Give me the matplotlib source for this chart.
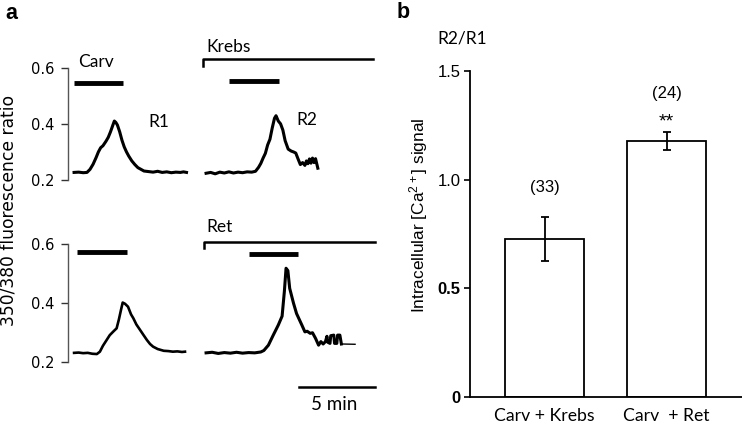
import numpy as np
import matplotlib.pyplot as plt

plt.rcParams['mathtext.default'] = 'regular'

# ---- panel a: fura-2 traces (time in min, 350/380 ratio) ----
r1_t = [0.4, 0.7, 1.0, 1.25, 1.45, 1.65, 1.85, 2.0, 2.15, 2.3, 2.5, 2.65, 2.8, 2.95, 3.05, 3.15, 3.25, 3.4, 3.55,
        3.7, 3.85, 4.0, 4.2, 4.4, 4.6, 4.8, 5.0, 5.3, 5.6, 5.9, 6.2, 6.5, 6.8, 7.1, 7.4, 7.6, 7.8]
r1_v = [0.227, 0.228, 0.226, 0.227, 0.238, 0.256, 0.280, 0.300, 0.315, 0.322, 0.338, 0.352, 0.372, 0.395, 0.410,
        0.405, 0.396, 0.372, 0.342, 0.318, 0.300, 0.285, 0.268, 0.255, 0.244, 0.238, 0.232, 0.230, 0.228, 0.231,
        0.227, 0.229, 0.226, 0.228, 0.227, 0.229, 0.227]

krebs_t = [0.4, 0.7, 1.0, 1.3, 1.6, 1.9, 2.2, 2.5, 2.8, 3.1, 3.4, 3.65, 3.85, 4.0, 4.15, 4.3, 4.45, 4.6, 4.75, 4.9,
           5.0, 5.15, 5.3, 5.45, 5.6, 5.8, 6.0, 6.15, 6.3, 6.45, 6.6, 6.75, 6.9, 7.0, 7.1, 7.2, 7.3, 7.4, 7.5, 7.6, 7.75]
krebs_v = [0.224, 0.227, 0.222, 0.228, 0.225, 0.229, 0.225, 0.228, 0.226, 0.229, 0.228, 0.231, 0.245, 0.259, 0.278,
           0.295, 0.325, 0.345, 0.385, 0.420, 0.429, 0.410, 0.400, 0.378, 0.340, 0.310, 0.303, 0.300, 0.296, 0.275,
           0.255, 0.262, 0.252, 0.268, 0.258, 0.275, 0.260, 0.278, 0.262, 0.276, 0.242]

r1b_t = [0.4, 0.7, 1.0, 1.3, 1.6, 1.9, 2.1, 2.3, 2.5, 2.75, 3.0, 3.2, 3.35, 3.5, 3.6, 3.75, 3.95, 4.15, 4.3, 4.5,
         4.75, 5.0, 5.2, 5.4, 5.6, 5.9, 6.3, 6.6, 6.9, 7.2, 7.5, 7.7]
r1b_v = [0.232, 0.233, 0.231, 0.232, 0.229, 0.228, 0.236, 0.256, 0.272, 0.292, 0.305, 0.315, 0.345, 0.380, 0.402,
         0.398, 0.388, 0.362, 0.349, 0.328, 0.309, 0.290, 0.275, 0.262, 0.253, 0.245, 0.239, 0.238, 0.236, 0.237,
         0.235, 0.236]

ret_t = [0.4, 0.8, 1.2, 1.6, 2.0, 2.4, 2.8, 3.2, 3.6, 4.0, 4.2, 4.5, 4.8, 5.15, 5.4, 5.55, 5.66, 5.78, 5.9, 6.15,
         6.35, 6.7, 6.9, 7.05, 7.25, 7.4, 7.6, 7.8, 7.95, 8.1, 8.25, 8.35, 8.4, 8.55, 8.6, 8.8, 8.85, 9.0, 9.05, 9.2,
         9.3, 10.2]
ret_v = [0.232, 0.234, 0.230, 0.233, 0.231, 0.234, 0.231, 0.233, 0.232, 0.235, 0.240, 0.258, 0.290, 0.326, 0.356,
         0.440, 0.518, 0.510, 0.450, 0.400, 0.365, 0.326, 0.303, 0.305, 0.298, 0.300, 0.281, 0.258, 0.270, 0.262,
         0.270, 0.288, 0.268, 0.264, 0.290, 0.292, 0.264, 0.264, 0.292, 0.292, 0.262, 0.261]

# carvacrol application (start, end) per trace
carv_on = [(0.39, 3.62), (1.91, 5.20), (0.59, 3.88), (3.22, 6.45)]
# bathing solution periods
krebs_period = (0.2, 11.38)
ret_period = (0.26, 11.51)

# ---- panel b: R2/R1 ----
groups = ['Carv + Krebs', 'Carv  + Ret']
ratio_mean = [0.727, 1.178]
ratio_sem = [0.102, 0.042]
n_cells = ['(33)', '(24)']
signif = ['', '**']

W, H = 742, 426
fig = plt.figure(figsize=(W / 100, H / 100), dpi=100)


def px_axes(x0, y0, x1, y1):
    return fig.add_axes([x0 / W, 1 - y1 / H, (x1 - x0) / W, (y1 - y0) / H])


ax_tl = px_axes(68, 34, 190, 180)
ax_tr = px_axes(200, 34, 380, 180)
ax_bl = px_axes(68, 208.5, 190, 406.7)
ax_br = px_axes(200, 208.5, 380, 406.7)

for ax in [ax_tl, ax_tr]:
    ax.set_ylim(0.2, 0.72)
for ax in [ax_bl, ax_br]:
    ax.set_ylim(0.05, 0.72)
for ax in [ax_tl, ax_bl]:
    ax.set_xlim(0, 8.03)
for ax in [ax_tr, ax_br]:
    ax.set_xlim(0, 11.84)

for ax in [ax_tl, ax_tr, ax_bl, ax_br]:
    for s in ['top', 'right', 'bottom']:
        ax.spines[s].set_visible(False)
    ax.set_xticks([])
    ax.patch.set_visible(False)

for ax in [ax_tr, ax_br]:
    ax.spines['left'].set_visible(False)
    ax.set_yticks([])

for ax in [ax_tl, ax_bl]:
    ax.spines['left'].set_bounds(0.2, 0.6)
    ax.spines['left'].set_color('#555555')
    ax.spines['left'].set_linewidth(1)
    ax.set_yticks([0.2, 0.4, 0.6])
    ax.set_yticklabels(['0.2', '0.4', '0.6'])
    ax.tick_params(axis='y', length=5, width=1, color='#333333', pad=5, labelsize=10.5)

lw_trace = 2.2
ax_tl.plot(r1_t, r1_v, color='black', lw=lw_trace)
ax_tr.plot(krebs_t, krebs_v, color='black', lw=lw_trace)
ax_bl.plot(r1b_t, r1b_v, color='black', lw=1.9)
ax_br.plot(ret_t[:-1], ret_v[:-1], color='black', lw=lw_trace)
ax_br.plot(ret_t[-2:], ret_v[-2:], color='black', lw=1)

bar_y = [0.545, 0.552, 0.573, 0.565]
for ax, (t0, t1), y in zip([ax_tl, ax_tr, ax_bl, ax_br], carv_on, bar_y):
    ax.plot([t0, t1], [y, y], color='black', lw=3.5, solid_capstyle='butt')

# solution brackets
ax_tr.plot([krebs_period[0], krebs_period[0], krebs_period[1]], [0.606, 0.631, 0.631], color='black', lw=1.8)
ax_br.plot([ret_period[0], ret_period[0], ret_period[1]], [0.587, 0.606, 0.606], color='black', lw=1.8)

tfont = dict(family='Lato', fontsize=12.5)
ax_tl.text(0.66, 0.62, 'Carv', va='center', ha='left', **tfont)
ax_tl.text(5.31, 0.407, 'R1', va='center', ha='left', **tfont)
ax_tr.text(6.36, 0.412, 'R2', va='center', ha='left', **tfont)
ax_tr.text(0.39, 0.673, 'Krebs', va='center', ha='left', **tfont)
ax_br.text(0.39, 0.658, 'Ret', va='center', ha='left', **tfont)

# scale bar
ax_br.plot([6.51, 11.51], [0.116, 0.116], color='black', lw=1.8)
ax_br.text(8.8, 0.057, '5 min', va='center', ha='center', family='Lato', fontsize=13.5)

fig.text(9 / W, 1 - 211 / H, '350/380 fluorescence ratio', rotation=90, ha='center', va='center', fontsize=12.3)
fig.text(5 / W, 1 - 19 / H, 'a', fontsize=15.5, fontweight='bold', family='Liberation Sans', va='baseline')
fig.text(397 / W, 1 - 18.5 / H, 'b', fontsize=15.5, fontweight='bold', family='Liberation Sans', va='baseline')

# ---- panel b ----
ax_b = px_axes(470, 71, 742, 396.7)
x = np.arange(len(groups))
ax_b.bar(x, ratio_mean, width=0.65, color='white', edgecolor='black', linewidth=1.3)
ax_b.errorbar(x, ratio_mean, yerr=ratio_sem, fmt='none', ecolor='black', elinewidth=1.3, capsize=3, capthick=1.3)
ax_b.set_xlim(-0.612, 1.619)
ax_b.set_ylim(0, 1.5)
ax_b.spines['top'].set_visible(False)
ax_b.spines['right'].set_visible(False)
ax_b.spines['left'].set_linewidth(1.3)
ax_b.spines['bottom'].set_linewidth(1.3)
ax_b.set_yticks([0, 0.5, 1.0, 1.5])
ax_b.set_yticklabels(['0', '0.5', '1.0', '1.5'], family='Liberation Sans', fontsize=12)
for lab in ax_b.get_yticklabels()[:2]:
    lab.set_fontweight('bold')
ax_b.tick_params(axis='y', length=4, width=1.2, pad=3)
ax_b.set_xticks(x)
ax_b.set_xticklabels(groups, family='Lato', fontsize=12.7)
ax_b.tick_params(axis='x', length=0, pad=8)

for i in range(len(groups)):
    top = ratio_mean[i] + ratio_sem[i]
    if signif[i]:
        ax_b.text(x[i], top + 0.023, signif[i], ha='center', va='baseline', family='Liberation Sans', fontsize=14)
        ax_b.text(x[i], top + 0.176, n_cells[i], ha='center', va='center', family='Liberation Sans', fontsize=12)
    else:
        ax_b.text(x[i], top + 0.134, n_cells[i], ha='center', va='center', family='Liberation Sans', fontsize=12)

fig.text(437 / W, 1 - 39 / H, 'R2/R1', ha='left', va='center', family='Lato', fontsize=12.5)
fig.text(419 / W, 1 - 215 / H, 'Intracellular [Ca$^{2+}$] signal', rotation=90, ha='center', va='center',
         family='Liberation Sans', fontsize=12.4)

plt.savefig('out.png', dpi=100)
plt.close()
